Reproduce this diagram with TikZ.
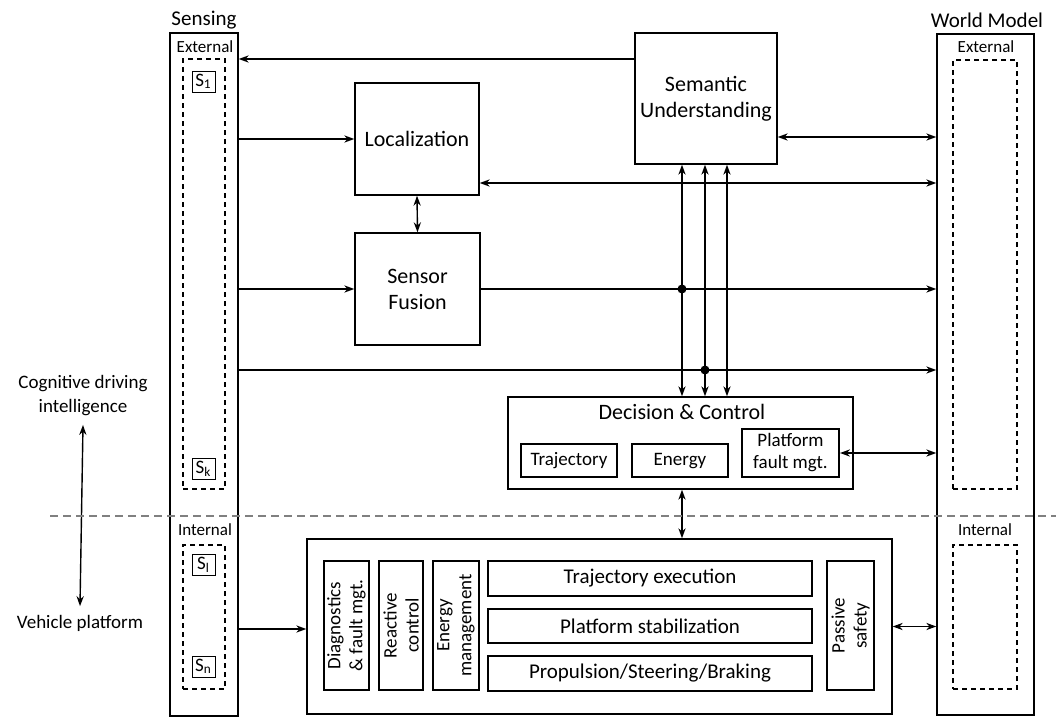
\documentclass[tikz,border=0pt]{standalone}
\usepackage{fontspec}
\setmainfont{Carlito}
\usetikzlibrary{arrows.meta}
\begin{document}
\begin{tikzpicture}[x=0.5pt,y=-0.5pt,line width=0.7pt,
  >={Stealth[length=5pt,width=3.6pt,inset=1.6pt]},
  box/.style={draw,rectangle,inner sep=0pt,align=center,font=\fontsize{11}{13}\selectfont},
  dbox/.style={draw,dash pattern=on 2.5pt off 2pt,inner sep=0pt,line width=0.6pt},
  sbox/.style={draw,inner sep=0pt,minimum width=11.5pt,minimum height=10.5pt,line width=0.5pt,font=\fontsize{9.5}{10}\selectfont},
  ibox/.style={draw,inner sep=0pt,align=center,font=\fontsize{9.5}{11}\selectfont},
  vbox/.style={ibox,rotate=90,minimum width=64.5pt},
  hbox/.style={draw,inner sep=0pt,minimum width=162pt,font=\fontsize{10.5}{12}\selectfont},
  title/.style={inner sep=0pt,font=\fontsize{10.5}{12}\selectfont},
  sub/.style={inner sep=0pt,font=\fontsize{8.5}{10}\selectfont},
  side/.style={inner sep=0pt,align=center,font=\fontsize{9.5}{12}\selectfont},
  dot/.style={circle,fill,inner sep=0pt,minimum size=4.5pt},
  divider/.style={gray,dash pattern=on 4pt off 2.5pt,line width=0.6pt}]
\useasboundingbox (0,0) rectangle (1056,728);

% Sensing column
\node[box,minimum width=34pt,minimum height=341.5pt] (sens) at (204,374.5) {};
\node[title] (senst) at (204,20) {Sensing};
\node[sub] (sensext) at (205,47) {External};
\node[dbox,minimum width=21pt,minimum height=215pt] (sensed) at (204,274) {};
\node[sbox] (s1) at (203.5,81.5) {S\textsubscript{1}};
\node[sbox] (sk) at (203.5,468.5) {S\textsubscript{k}};
\node[sub] (sensint) at (205,530) {Internal};
\node[dbox,minimum width=21pt,minimum height=72pt] (sensid) at (204,617) {};
\node[sbox] (sl) at (203.5,565) {S\textsubscript{l}};
\node[sbox] (sn) at (203.5,666.5) {S\textsubscript{n}};

% World model column
\node[box,minimum width=48.5pt,minimum height=340.5pt] (wm) at (985.5,374.5) {};
\node[title] (wmt) at (987,20) {World Model};
\node[sub] (wmext) at (986,47) {External};
\node[dbox,minimum width=32pt,minimum height=214.5pt] (wmed) at (985,274.5) {};
\node[sub] (wmint) at (985,530) {Internal};
\node[dbox,minimum width=32pt,minimum height=72pt] (wmid) at (985,617) {};

% Processing blocks
\node[box,minimum width=71pt,minimum height=65.5pt] (sem) at (706,98.5) {Semantic\\Understanding};
\node[box,minimum width=62pt,minimum height=56pt] (loc) at (417,139) {Localization};
\node[box,minimum width=62.5pt,minimum height=56pt] (fus) at (417.5,289) {Sensor\\Fusion};

% Decision & Control
\node[box,minimum width=172.5pt,minimum height=46pt] (dc) at (680.5,443) {};
\node[inner sep=0pt,font=\fontsize{11}{13}\selectfont] (dct) at (682,412) {Decision \& Control};
\node[ibox,minimum width=48pt,minimum height=16.5pt,text height=6.5pt,text depth=2pt,font=\fontsize{9.5}{11}\selectfont] (traj) at (569,460.5) {Trajectory};
\node[ibox,minimum width=48pt,minimum height=16.5pt,text height=6.5pt,text depth=2pt,font=\fontsize{9.5}{11}\selectfont] (energy) at (680,460.5) {Energy};
\node[ibox,minimum width=48.5pt,minimum height=24pt,line width=1pt] (pfm) at (790.5,453) {Platform\\fault mgt.};

% Vehicle platform
\node[box,minimum width=292.5pt,minimum height=87.5pt] (veh) at (599.5,626.5) {};
\node[vbox,minimum height=22.5pt] (diag) at (346.5,625.5) {Diagnostics\\\& fault mgt.};
\node[vbox,minimum height=22pt] (react) at (401,625.5) {Reactive\\control};
\node[vbox,minimum height=23pt] (emgmt) at (456,625.5) {Energy\\management};
\node[hbox,minimum height=17.5pt] (texec) at (650,578.5) {Trajectory execution};
\node[hbox,minimum height=17pt] (pstab) at (650,626) {Platform stabilization};
\node[hbox,minimum height=17.5pt] (prop) at (650,673.5) {Propulsion/Steering/Braking};
\node[vbox,minimum height=23.5pt] (passive) at (850.5,625.5) {Passive\\safety};

% Side labels
\node[side] (cog) at (83,396) {Cognitive driving\\intelligence};
\node[side] (vp) at (80,623) {Vehicle platform};

% Helper coordinates
\coordinate (r59) at (0,59);
\coordinate (r137) at (0,137);
\coordinate (r183) at (0,183);
\coordinate (r370) at (0,370);
\coordinate (r629) at (0,629);
\coordinate (v1) at (682,0);
\coordinate (v2) at (705,0);
\coordinate (v3) at (727,0);
\coordinate (dl) at (50,516);
\coordinate (dr) at (1056,516);

% Connectors
\draw[->] (sem.west|-r59) -- (sens.east|-r59);
\draw[->] (sens.east|-loc) -- (loc.west);
\draw[<->] (sem.east|-r137) -- (wm.west|-r137);
\draw[<->] (loc.east|-r183) -- (wm.west|-r183);
\draw[<->] (loc.south) -- (fus.north);
\draw[->] (sens.east|-fus) -- (fus.west);
\draw[->] (fus.east) -- (wm.west|-fus);
\draw[->] (sens.east|-r370) -- (wm.west|-r370);
\draw[<->] (sem.south-|v1) -- (dc.north-|v1);
\draw[<->] (sem.south-|v2) -- (dc.north-|v2);
\draw[<->] (sem.south-|v3) -- (dc.north-|v3);
\node[dot] (d1) at (v1|-fus) {};
\node[dot] (d2) at (v2|-r370) {};
\draw[<->] (pfm.east) -- (wm.west|-pfm);
\draw[<->] (dc.south-|v1) -- (veh.north-|v1);
\draw[->] (sens.east|-r629) -- (veh.west|-r629);
\draw[<->] (veh.east) -- (wm.west|-veh);
\draw[<->] ([yshift=-4pt]cog.south) -- ([yshift=4pt]vp.north);
\draw[divider] (dl) -- (dr);
\end{tikzpicture}
\end{document}
